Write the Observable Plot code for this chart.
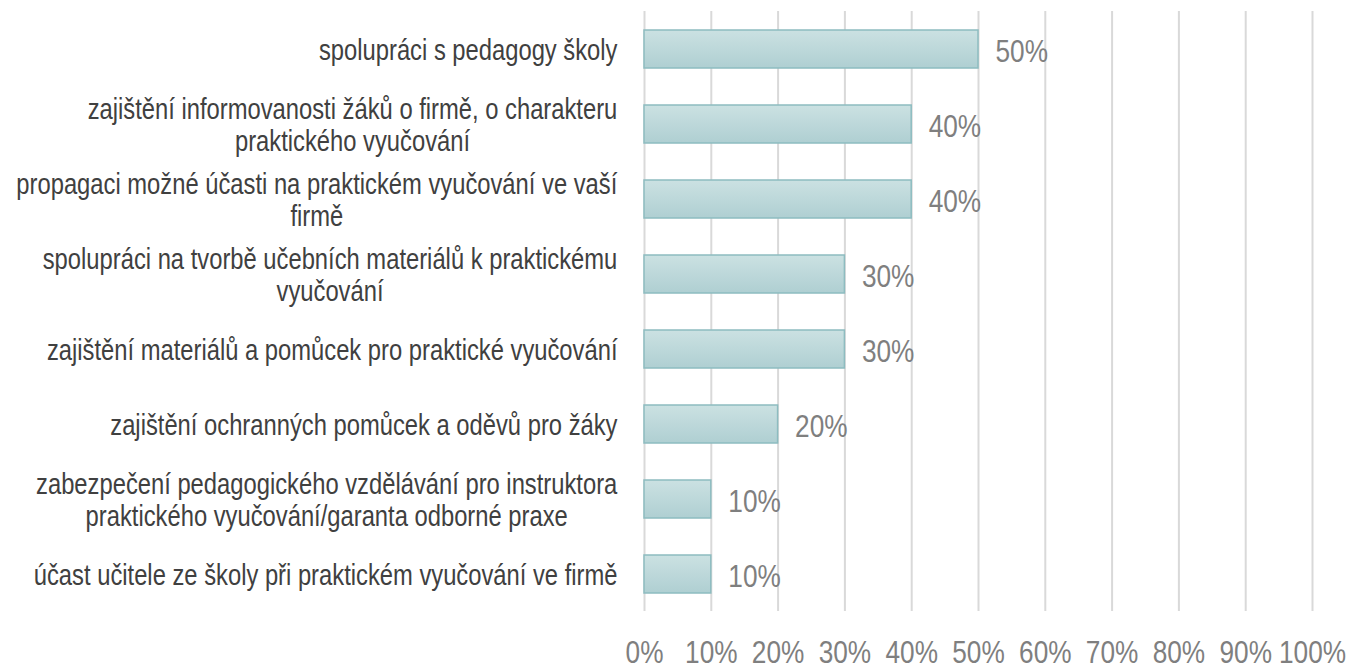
<!DOCTYPE html>
<html>
<head>
<meta charset="utf-8">
<script src="https://cdn.jsdelivr.net/npm/d3@7"></script>
<script src="https://cdn.jsdelivr.net/npm/@observablehq/plot@0.6"></script>
<style>
  html, body { margin: 0; padding: 0; background: #fff; }
  #chart { width: 1350px; height: 665px; }
</style>
</head>
<body>
<div id="chart"></div>
<script>
const categories = [
  "spolupráci s pedagogy školy",
  "zajištění informovanosti žáků o firmě, o charakteru\npraktického vyučování",
  "propagaci možné účasti na praktickém vyučování ve vaší\nfirmě",
  "spolupráci na tvorbě učebních materiálů k praktickému\nvyučování",
  "zajištění materiálů a pomůcek pro praktické vyučování",
  "zajištění ochranných pomůcek a oděvů pro žáky",
  "zabezpečení pedagogického vzdělávání pro instruktora\npraktického vyučování/garanta odborné praxe",
  "účast učitele ze školy při praktickém vyučování ve firmě"
];
const values = [0.5, 0.4, 0.4, 0.3, 0.3, 0.2, 0.1, 0.1];
const valueLabels = ["50%", "40%", "40%", "30%", "30%", "20%", "10%", "10%"];
const xTicks = [0, 0.1, 0.2, 0.3, 0.4, 0.5, 0.6, 0.7, 0.8, 0.9, 1.0];
const xTickLabels = ["0%", "10%", "20%", "30%", "40%", "50%", "60%", "70%", "80%", "90%", "100%"];

const data = categories.map((c, i) => ({ category: c, value: values[i], label: valueLabels[i] }));

const FONT = "'Liberation Sans', Arial, sans-serif";
const NARROW = 0.82; // horizontal condensing to mimic the narrow face of the original

const gradientDefs = () => {
  const defs = d3.create("svg:defs");
  const g = defs.append("linearGradient")
    .attr("id", "barGrad")
    .attr("x1", 0).attr("y1", 0).attr("x2", 0).attr("y2", 1);
  g.append("stop").attr("offset", "0%").attr("stop-color", "#cbe1e2");
  g.append("stop").attr("offset", "100%").attr("stop-color", "#afcfd2");
  return defs.node();
};

const chart = Plot.plot({
  width: 1350,
  height: 665,
  marginLeft: 644,
  marginRight: 38,
  marginTop: 11,
  marginBottom: 54,
  style: { fontFamily: FONT, background: "#fff" },
  x: { domain: [0, 1] },
  y: { domain: categories, paddingInner: 0.5, paddingOuter: 0.25 },
  marks: [
    gradientDefs,
    Plot.gridX(xTicks, { stroke: "#d9d9d9", strokeOpacity: 1, strokeWidth: 2 }),
    Plot.barX(data, {
      y: "category",
      x: "value",
      fill: "url(#barGrad)",
      stroke: "#8dbcc0",
      strokeWidth: 1.5
    }),
    Plot.text(data, {
      y: "category",
      x: "value",
      text: "label",
      textAnchor: "start",
      dx: 17,
      dy: 2,
      fontSize: 32,
      fill: "#7f7f7f"
    }),
    Plot.axisX({
      ticks: xTicks,
      tickFormat: (d, i) => xTickLabels[i],
      tickSize: 0,
      tickPadding: 29,
      fontSize: 32,
      color: "#7f7f7f",
      label: null
    }),
    Plot.axisY({
      tickSize: 0,
      tickPadding: 27,
      fontSize: 29,
      lineHeight: 1.1,
      lineWidth: 100,
      color: "#404040",
      label: null
    })
  ]
});

document.getElementById("chart").appendChild(chart);

// Center the lines of wrapped category labels within the widest line (right-aligned block)
d3.select(chart).selectAll("g[aria-label='y-axis tick label'] text").each(function () {
  const tspans = Array.from(this.querySelectorAll("tspan"));
  if (tspans.length > 1) {
    const maxW = d3.max(tspans, t => t.getComputedTextLength());
    this.setAttribute("text-anchor", "middle");
    tspans.forEach(t => t.setAttribute("x", -maxW / 2));
  }
});

// Condense all texts horizontally around their anchor point
d3.select(chart).selectAll("text").each(function () {
  const tr = this.getAttribute("transform");
  if (tr) {
    this.setAttribute("transform", tr + ` scale(${NARROW},1)`);
  } else {
    const x = +this.getAttribute("x") || 0;
    const y = +this.getAttribute("y") || 0;
    this.removeAttribute("x");
    this.removeAttribute("y");
    this.setAttribute("transform", `translate(${x},${y}) scale(${NARROW},1)`);
  }
});
</script>
</body>
</html>
